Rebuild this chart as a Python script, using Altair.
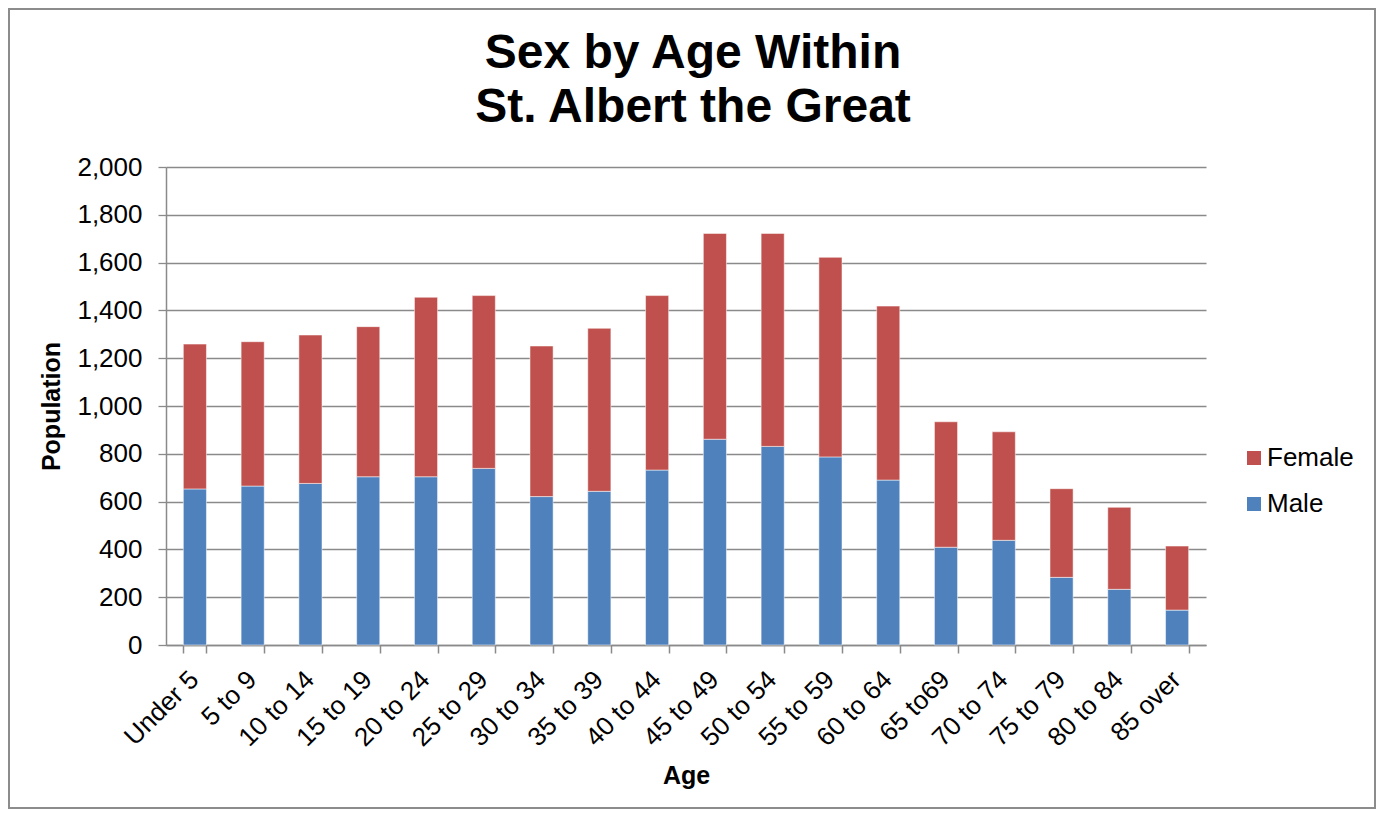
import altair as alt
import pandas as pd

ages = ["Under 5", "5 to 9", "10 to 14", "15 to 19", "20 to 24", "25 to 29",
        "30 to 34", "35 to 39", "40 to 44", "45 to 49", "50 to 54", "55 to 59",
        "60 to 64", "65 to69", "70 to 74", "75 to 79", "80 to 84", "85 over"]
male = [653, 665, 676, 704, 704, 739, 621, 643, 732, 861, 831, 787, 690, 409, 438, 283, 233, 146]
female = [606, 604, 621, 628, 751, 723, 630, 682, 730, 861, 891, 835, 728, 525, 454, 371, 343, 268]
series = ["Female", "Male"]
colors = ["#C0504D", "#4F81BD"]
y_ticks = list(range(0, 2001, 200))

rows = []
for a, m, f in zip(ages, male, female):
    rows.append({"Age": a, "Sex": "Male", "Population": m, "ord": 0})
    rows.append({"Age": a, "Sex": "Female", "Population": f, "ord": 1})
df = pd.DataFrame(rows)

FONT = "Liberation Sans"
GRID = "#8a8a8a"
W, H = 1040, 478

bars = alt.Chart(df).mark_bar(stroke="white", strokeWidth=1, strokeOpacity=0.5).encode(
    x=alt.X("Age:N", sort=ages,
            scale=alt.Scale(paddingInner=0.6, paddingOuter=0.3),
            axis=alt.Axis(title="Age", labelAngle=-45, labelAlign="right",
                          labelBaseline="top", labelPadding=13, labelOffset=-10,
                          labelFontSize=26,
                          tickBand="extent", tickSize=8, tickColor=GRID,
                          domainColor=GRID, domainWidth=1.5, tickWidth=1.5,
                          titleFontSize=25, titleFontWeight="bold",
                          titleY=118, titleBaseline="top")),
    y=alt.Y("Population:Q", stack="zero",
            scale=alt.Scale(domain=[0, 2000], nice=False),
            axis=alt.Axis(title="Population", values=y_ticks, format=",d",
                          labelFontSize=26, labelPadding=16, tickSize=8,
                          tickColor=GRID, domainColor=GRID, gridColor=GRID,
                          gridWidth=1.3, domainWidth=1.5, tickWidth=1.3,
                          titleFontSize=25, titleFontWeight="bold",
                          titlePadding=12)),
    color=alt.Color("Sex:N", scale=alt.Scale(domain=series, range=colors),
                    legend=alt.Legend(title=None, orient="none", legendX=1075,
                                      legendY=278, labelFontSize=26,
                                      symbolType="square", symbolSize=196,
                                      symbolStrokeWidth=0, rowPadding=20,
                                      labelOffset=0, padding=0)),
    order=alt.Order("ord:Q", sort="ascending"),
)

border = alt.Chart(pd.DataFrame({"b": [0]})).mark_rect(
    fill=None, stroke="#8c8c8c", strokeWidth=2
).encode(
    x=alt.value(-157), x2=alt.value(1209),
    y=alt.value(-158), y2=alt.value(641),
)

chart = alt.layer(bars, border).properties(
    width=W, height=H,
    title=alt.TitleParams(["Sex by Age Within", "St. Albert the Great"],
                          fontSize=48, font=FONT, fontWeight="bold",
                          anchor="middle", frame="group", dx=7, offset=-124,
                          lineHeight=54, color="black"),
    autosize=alt.AutoSizeParams(type="none"),
    padding={"left": 158, "top": 159, "right": 171, "bottom": 165},
).configure(font=FONT).configure_view(stroke=None).configure_axis(
    labelColor="black", titleColor="black", labelFont=FONT, titleFont=FONT
).configure_legend(labelColor="black", labelFont=FONT)

chart.save("out.html", embed_options={"renderer": "svg", "actions": False})
